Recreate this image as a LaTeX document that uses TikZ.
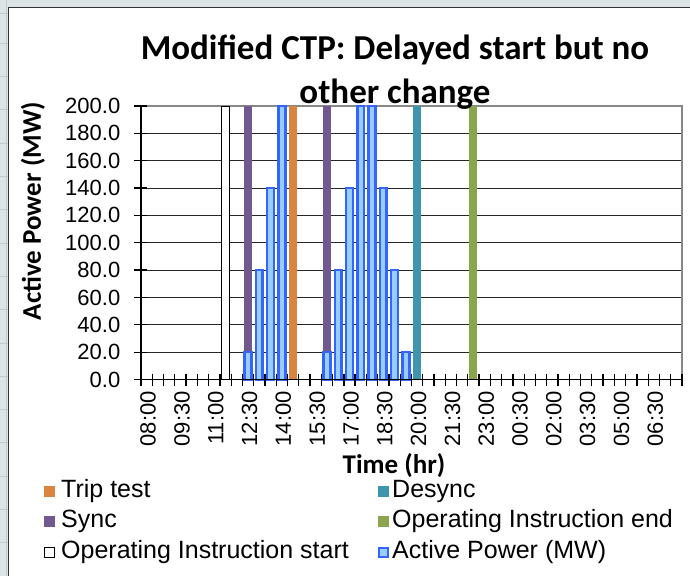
\documentclass[tikz,border=0pt]{standalone}
\usepackage{fontspec}
\setmainfont{Liberation Sans}
\newfontfamily\calibri{Carlito}

\definecolor{sheetgray}{HTML}{DDE4E6}
\definecolor{sheetline}{HTML}{C4CBCE}
\definecolor{syncc}{HTML}{71588F}
\definecolor{tripc}{HTML}{DB843D}
\definecolor{desyncc}{HTML}{3D96AE}
\definecolor{endc}{HTML}{89A54E}
\definecolor{powerline}{HTML}{3366FF}
\definecolor{powerfill}{HTML}{99CCFF}
\definecolor{frame}{HTML}{888888}

% horizontal geometry: axis at x=141, 48 half-hour categories of 11.27
\newcommand\catx[1]{141+(#1+0.5)*11.27}
% vertical geometry: 0 MW at y=379.5, 200 MW at y=106
\newcommand\valy[1]{379.5-(#1)*1.3675}

\tikzset{
  ticklabel/.style={font=\fontsize{22bp}{26bp}\selectfont, inner sep=0pt},
  legendtext/.style={font=\fontsize{25bp}{30bp}\selectfont, anchor=west, inner sep=0pt},
  titletext/.style={font=\calibri\bfseries\fontsize{35bp}{42bp}\selectfont, inner sep=0pt},
  axistitle/.style={font=\calibri\bfseries\fontsize{27bp}{32bp}\selectfont, inner sep=0pt},
  gridline/.style={black!85, line width=1bp},
  axisline/.style={black, line width=1.3bp},
  eventbar/.style={fill=#1, draw=none},
  startbar/.style={fill=white, draw=black, line width=0.9bp},
  powerbar/.style={fill=powerfill, draw=powerline, line width=2.5bp},
  legendkey/.style={minimum size=11bp, inner sep=0pt},
}

\begin{document}
\begin{tikzpicture}[x=1bp, y=-1bp]
\useasboundingbox (0,0) rectangle (690,576);

% spreadsheet behind the chart
\fill[sheetgray] (0,0) rectangle (690,576);
\foreach \r in {0,...,16}
  \draw[sheetline, line width=1bp] (0,{43.3+33.3*\r}) -- (8,{43.3+33.3*\r});
\draw[sheetline, line width=1bp] (0,14) -- (8,14);
\draw[sheetline, line width=1bp] (6.5,0) -- (6.5,576);

% chart area
\draw[fill=white, draw=black!80, line width=1.5bp] (8.5,7.5) rectangle (700,590);

% horizontal gridlines
\foreach \v in {20,40,...,180}
  \draw[gridline] (141,{\valy{\v}}) -- (682,{\valy{\v}});
% plot area border (top and right)
\draw[frame, line width=1.8bp] (141,{\valy{200}}) -- (682,{\valy{200}}) -- (682,{\valy{0}});

% event markers
\foreach \c/\col in {9/syncc,16/syncc,13/tripc,24/desyncc,29/endc}
  \fill[eventbar=\col] ({\catx{\c}-4},{\valy{0}}) rectangle ({\catx{\c}+4},{\valy{200}});
\draw[startbar] ({\catx{7}-3.6},{\valy{0}}) rectangle ({\catx{7}+3.6},{\valy{200}});

% active power
\foreach \c/\v in {9/20,10/80,11/140,12/200,16/20,17/80,18/140,19/200,20/200,21/140,22/80,23/20}
  \draw[powerbar] ({\catx{\c}-3.4},{\valy{0}+0.5}) rectangle ({\catx{\c}+3.4},{\valy{\v}});

% value axis
\draw[axisline] (141,{\valy{0}}) -- (141,{\valy{200}});
\foreach \v in {0,20,...,200}
  \draw[axisline] (134,{\valy{\v}}) -- (147,{\valy{\v}});
\foreach \v in {0,20,...,200}
  \node[ticklabel, anchor=east] (yl\v) at (120.5,{\valy{\v}}) {\v.0};

% category axis
\draw[axisline] (141,{\valy{0}}) -- (682,{\valy{0}});
\foreach \k in {0,...,48}
  \draw[axisline] ({141+\k*11.27},{\valy{0}-6}) -- ({141+\k*11.27},{\valy{0}+6});
\foreach \t [count=\i from 0] in {08:00,09:30,11:00,12:30,14:00,15:30,17:00,18:30,20:00,21:30,23:00,00:30,02:00,03:30,05:00,06:30}
  \node[ticklabel, rotate=90, anchor=east] (xl\i) at ({\catx{3*\i}+1.5},391) {\t};

% titles
\node[titletext] (title1) at (395,50) {Modified CTP: Delayed start but no};
\node[titletext] (title2) at (395,94) {other change};
\node[axistitle, rotate=90] (ytitle) at (33,211) {Active Power (MW)};
\node[axistitle] (xtitle) at (394,466) {Time (hr)};

% legend
\node[legendkey, fill=tripc] (k1) at (49,491) {};
\node[legendtext] (t1) at (61,491) {Trip test};
\node[legendkey, fill=syncc] (k2) at (49,521) {};
\node[legendtext] (t2) at (61,521) {Sync};
\node[legendkey, fill=white, draw=black, line width=0.9bp, minimum size=10bp] (k3) at (49,552) {};
\node[legendtext] (t3) at (61,552) {Operating Instruction start};
\node[legendkey, fill=desyncc] (k4) at (383,491) {};
\node[legendtext] (t4) at (392,491) {Desync};
\node[legendkey, fill=endc] (k5) at (383,521) {};
\node[legendtext] (t5) at (392,521) {Operating Instruction end};
\node[legendkey, fill=powerfill, draw=powerline, line width=2bp, minimum size=9bp] (k6) at (383,552) {};
\node[legendtext] (t6) at (392,552) {Active Power (MW)};
\end{tikzpicture}
\end{document}
